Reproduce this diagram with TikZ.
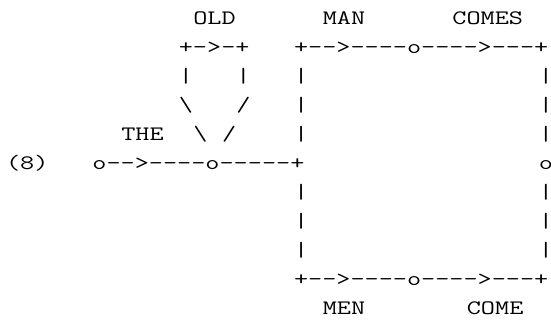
\documentclass[tikz,border=0pt]{standalone}
\usepackage{graphicx}
\usetikzlibrary{positioning}

\newcommand{\wide}[1]{\scalebox{1.336}[1]{#1}}

\begin{document}
\begin{tikzpicture}[x=10.8pt,y=-21.75pt,
    ascii/.style={anchor=base west, inner sep=0pt, font=\fontsize{15.4pt}{16pt}\selectfont\ttfamily}]
  \useasboundingbox (-0.903,-0.862) rectangle (37.361,10.172);

  % words on the arcs
  \node (old) [ascii] at (12.5,0) {\wide{OLD}};
  \node (man) [ascii] at (21.5,0) {\wide{MAN}};
  \node (comes) [ascii] at (30.5,0) {\wide{COMES}};
  \node (the) [ascii] at (7.5,4) {\wide{THE}};
  \node (men) [ascii] at (21.5,10) {\wide{MEN}};
  \node (come) [ascii] at (31.5,10) {\wide{COME}};
  \node (num) [ascii] at (-0.5,5) {\wide{(8)}};

  % loop over OLD
  \node (looptop) [ascii] at (11.5,1) {\wide{+->-+}};
  \node (loopl1) [ascii] at (11.5,2) {\wide{|}};
  \node (loopr1) [ascii] at (15.5,2) {\wide{|}};
  \node (loopl2) [ascii] at (11.5,3) {\wide{\textbackslash}};
  \node (loopr2) [ascii] at (15.5,3) {\wide{/}};
  \node (loopl3) [ascii] at (12.5,4) {\wide{\textbackslash}};
  \node (loopr3) [ascii] at (14.5,4) {\wide{/}};

  % main paths
  \node (toprow) [ascii] at (19.5,1) {\wide{+-{}->-{}-{}-{}-o-{}-{}-{}->-{}-{}-+}};
  \node (midrow) [ascii] at (5.5,5) {\wide{o-{}->-{}-{}-{}-o-{}-{}-{}-{}-+}};
  \node (endstate) [ascii] at (36.5,5) {\wide{o}};
  \node (botrow) [ascii] at (19.5,9) {\wide{+-{}->-{}-{}-{}-o-{}-{}-{}->-{}-{}-+}};

  \foreach \r in {2,3,4,6,7,8} {
    \node (lbar\r) [ascii] at (19.5,\r) {\wide{|}};
    \node (rbar\r) [ascii] at (36.5,\r) {\wide{|}};
  }
\end{tikzpicture}
\end{document}
